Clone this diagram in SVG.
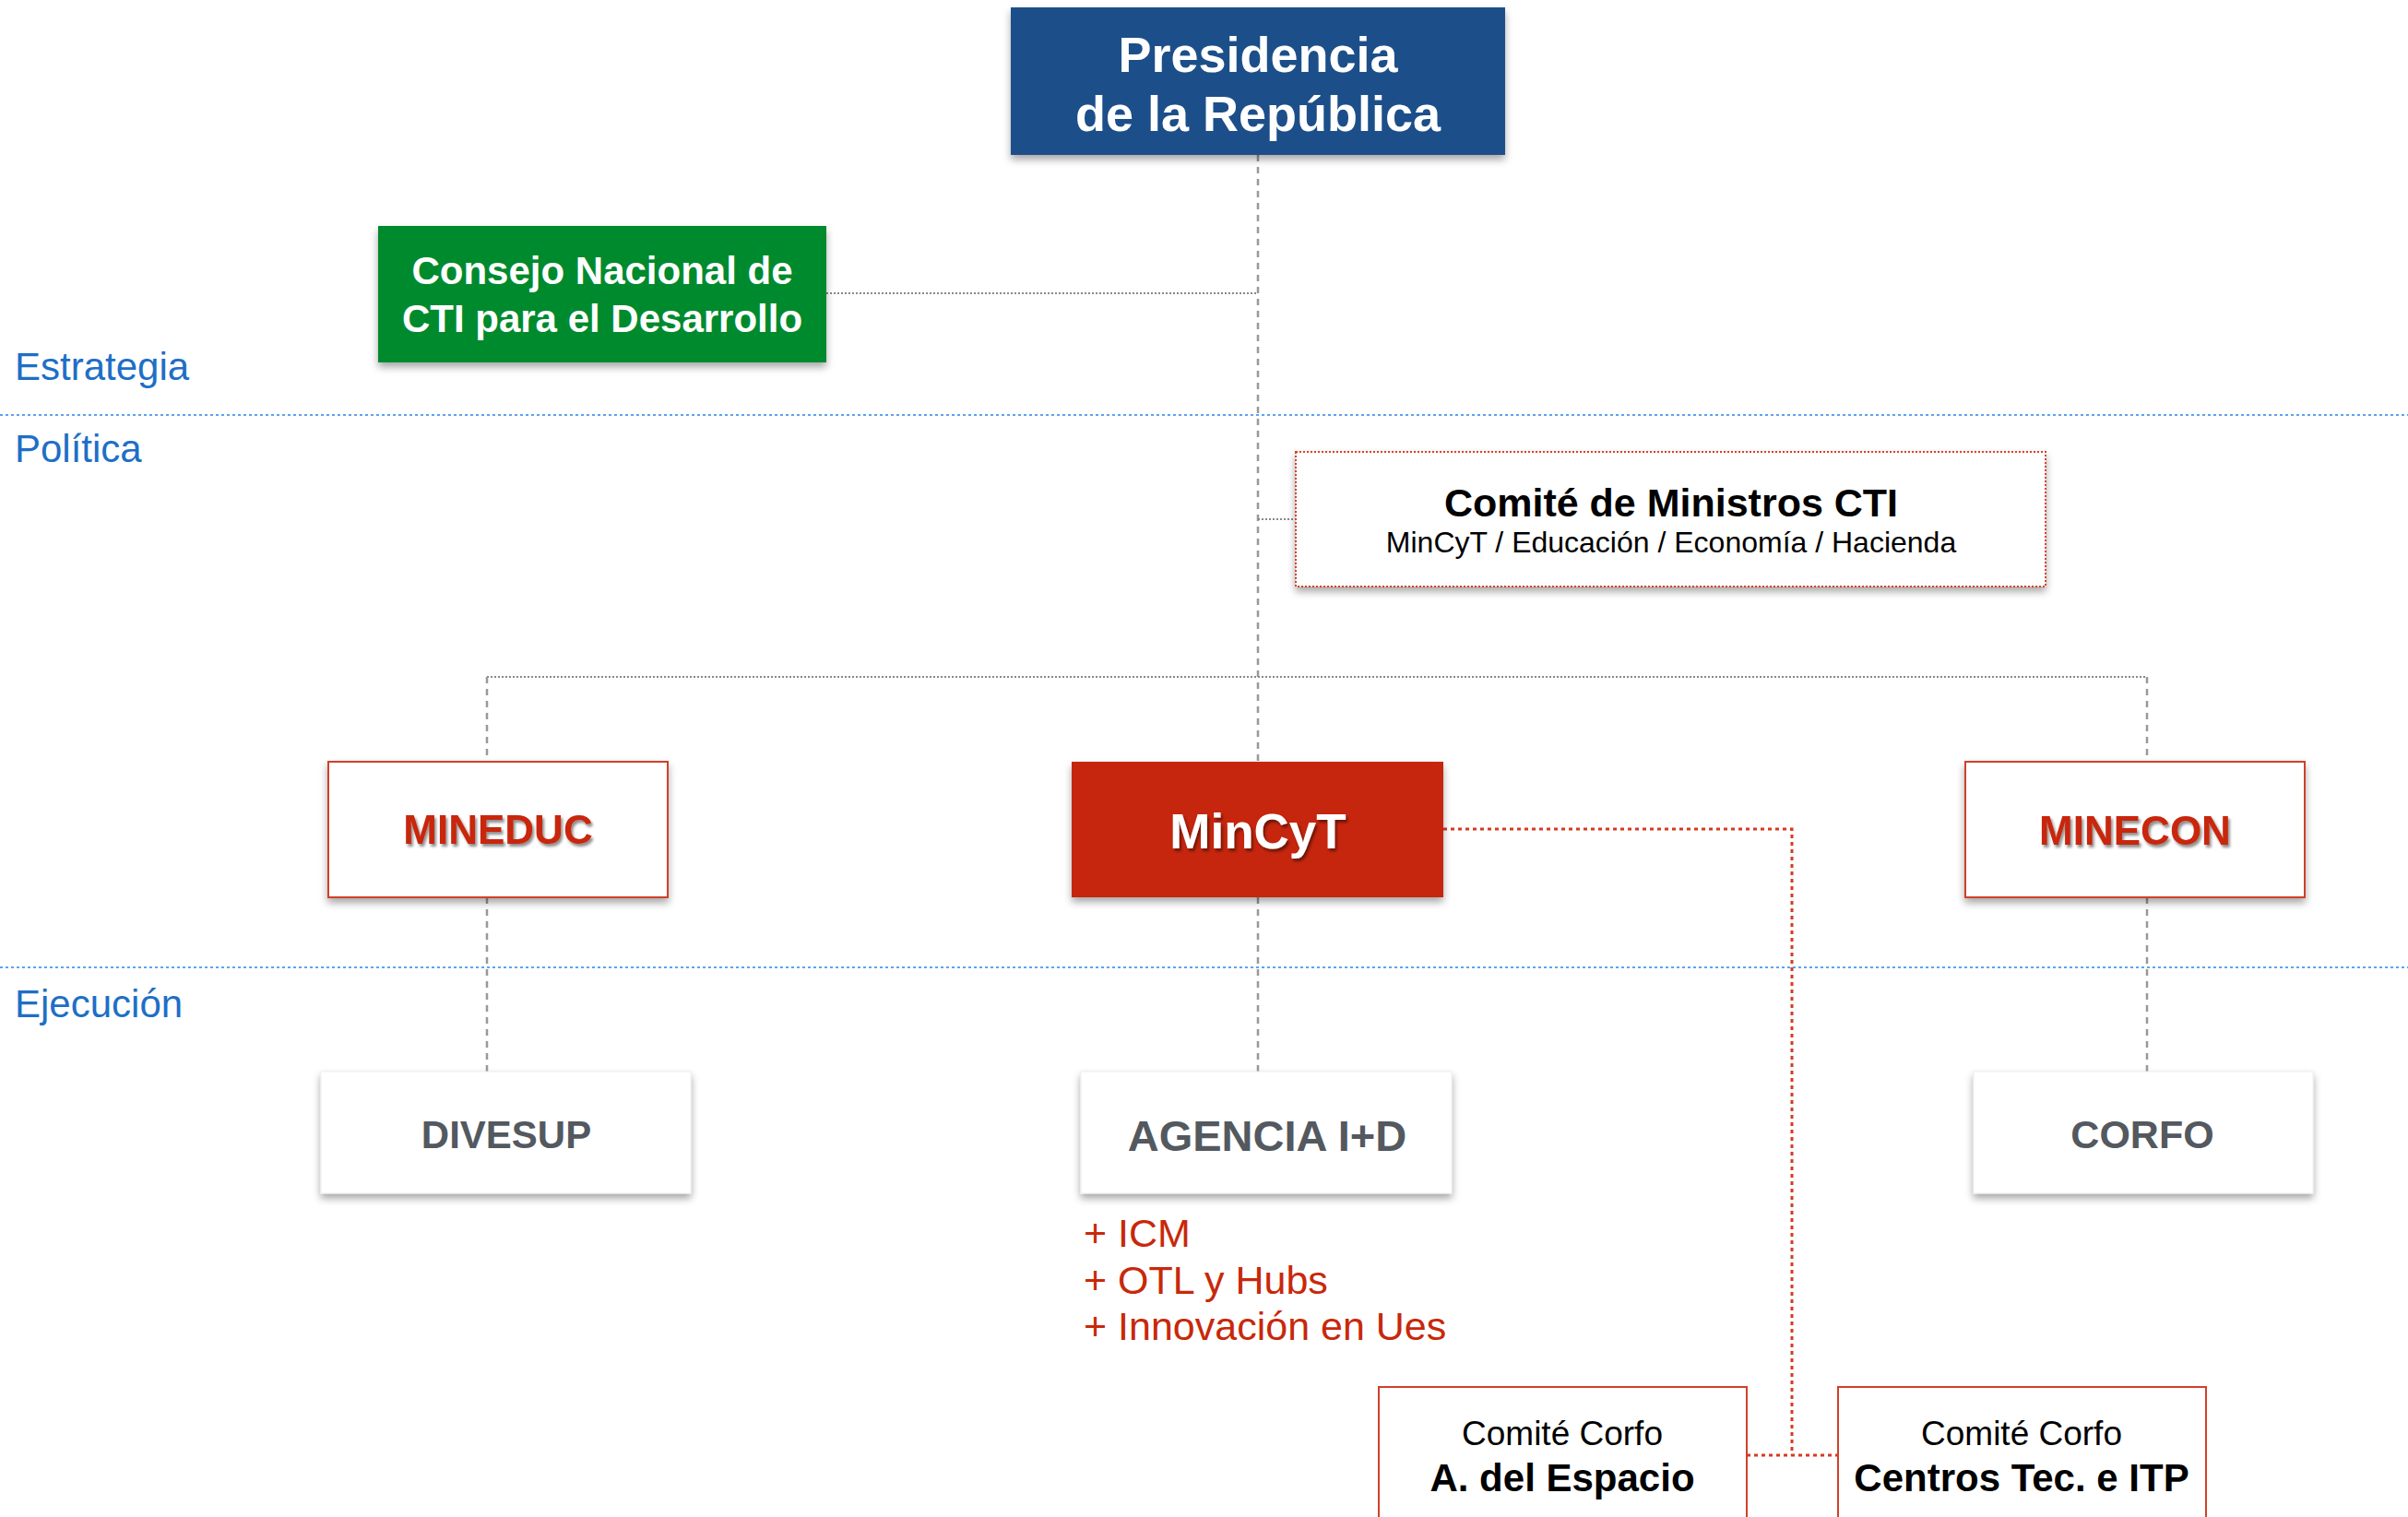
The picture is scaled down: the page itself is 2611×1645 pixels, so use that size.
<svg xmlns="http://www.w3.org/2000/svg" width="2611" height="1645" viewBox="0 0 2611 1645">
<defs>
<filter id="sh" x="-10%" y="-10%" width="120%" height="130%">
<feDropShadow dx="0" dy="5" stdDeviation="4" flood-color="#000" flood-opacity="0.35"/>
</filter>
<filter id="tsh" x="-10%" y="-20%" width="120%" height="150%">
<feDropShadow dx="2" dy="3" stdDeviation="1.5" flood-color="#000" flood-opacity="0.45"/>
</filter>
<style>
text{font-family:"Liberation Sans",Arial,Helvetica,sans-serif}
.band{stroke:#5ea3ec;stroke-width:2;stroke-dasharray:3 3;fill:none}
.lbl{fill:#1e6fc6;font-size:42px}
.gv{stroke:#999;stroke-width:2.5;stroke-dasharray:7 6;fill:none}
.gh{stroke:#888;stroke-width:2;stroke-dasharray:2 2;fill:none}
.rd{stroke:#d63a22;stroke-width:3;stroke-dasharray:4 4;fill:none}
.wt{fill:#fff;font-weight:bold;text-anchor:middle}
.rt{fill:#c8280a;font-weight:bold;text-anchor:middle;font-size:44px}
.gt{fill:#53595f;font-weight:bold;text-anchor:middle}
.bt{fill:#000;text-anchor:middle}
.plus{fill:#c8280a;font-size:43px}
</style>
</defs>
<rect width="2611" height="1645" fill="#fff"/>

<g id="bands">
<line class="band" x1="0" y1="450" x2="2611" y2="450"/>
<line class="band" x1="0" y1="1049" x2="2611" y2="1049"/>
<text class="lbl" x="16" y="412">Estrategia</text>
<text class="lbl" x="16" y="501">Política</text>
<text class="lbl" x="16" y="1103">Ejecución</text>
</g>

<g id="connectors">
<line class="gv" x1="1364" y1="168" x2="1364" y2="826"/>
<line class="gh" x1="896" y1="318" x2="1364" y2="318"/>
<line class="gh" x1="1364" y1="563" x2="1405" y2="563"/>
<line class="gh" x1="528" y1="734" x2="2328" y2="734"/>
<line class="gv" x1="528" y1="734" x2="528" y2="826"/>
<line class="gv" x1="2328" y1="734" x2="2328" y2="826"/>
<line class="gv" x1="528" y1="973" x2="528" y2="1162"/>
<line class="gv" x1="1364" y1="973" x2="1364" y2="1162"/>
<line class="gv" x1="2328" y1="973" x2="2328" y2="1162"/>
<polyline class="rd" points="1565,899 1943,899 1943,1578"/>
<line class="rd" x1="1894" y1="1578" x2="1993" y2="1578"/>
</g>

<g id="presidencia">
<rect x="1096" y="8" width="536" height="160" fill="#1a5089" filter="url(#sh)"/>
<text class="wt" x="1364" y="78" font-size="54">Presidencia</text>
<text class="wt" x="1364" y="142" font-size="54">de la República</text>
</g>

<g id="consejo">
<rect x="410" y="245" width="486" height="148" fill="#058a2d" filter="url(#sh)"/>
<text class="wt" x="653" y="308" font-size="42">Consejo Nacional de</text>
<text class="wt" x="653" y="360" font-size="42">CTI para el Desarrollo</text>
</g>

<g id="comite-ministros">
<rect x="1405" y="490" width="813" height="146" fill="#fff" stroke="#d9432b" stroke-width="2" stroke-dasharray="2 2" filter="url(#sh)"/>
<text class="bt" x="1812" y="560" font-size="43" font-weight="bold">Comité de Ministros CTI</text>
<text class="bt" x="1812" y="599" font-size="32">MinCyT / Educación / Economía / Hacienda</text>
</g>

<g id="mineduc">
<rect x="356" y="826" width="368" height="147" fill="#fff" stroke="#d0412a" stroke-width="2" filter="url(#sh)"/>
<text class="rt" x="540" y="915" filter="url(#tsh)">MINEDUC</text>
</g>

<g id="mincyt">
<rect x="1162" y="826" width="403" height="147" fill="#c5250a" filter="url(#sh)"/>
<text class="wt" x="1364" y="920" font-size="53" filter="url(#tsh)">MinCyT</text>
</g>

<g id="minecon">
<rect x="2131" y="826" width="368" height="147" fill="#fff" stroke="#d0412a" stroke-width="2" filter="url(#sh)"/>
<text class="rt" x="2315" y="916" filter="url(#tsh)">MINECON</text>
</g>

<g id="divesup">
<rect x="348" y="1162" width="401" height="132" fill="#fff" stroke="#eee" stroke-width="1" filter="url(#sh)"/>
<text class="gt" x="549" y="1245" font-size="42">DIVESUP</text>
</g>

<g id="agencia">
<rect x="1172" y="1162" width="402" height="132" fill="#fff" stroke="#eee" stroke-width="1" filter="url(#sh)"/>
<text class="gt" x="1374" y="1248" font-size="47">AGENCIA I+D</text>
</g>

<g id="corfo">
<rect x="2140" y="1162" width="368" height="132" fill="#fff" stroke="#eee" stroke-width="1" filter="url(#sh)"/>
<text class="gt" x="2323" y="1245" font-size="43">CORFO</text>
</g>

<g id="agencia-items">
<text class="plus" x="1175" y="1352">+ ICM</text>
<text class="plus" x="1175" y="1403">+ OTL y Hubs</text>
<text class="plus" x="1175" y="1453">+ Innovación en Ues</text>
</g>

<g id="comite-espacio">
<rect x="1495" y="1504" width="399" height="160" fill="#fff" stroke="#d0412a" stroke-width="2"/>
<text class="bt" x="1694" y="1567" font-size="37">Comité Corfo</text>
<text class="bt" x="1694" y="1617" font-size="42" font-weight="bold">A. del Espacio</text>
</g>

<g id="comite-centros">
<rect x="1993" y="1504" width="399" height="160" fill="#fff" stroke="#d0412a" stroke-width="2"/>
<text class="bt" x="2192" y="1567" font-size="37">Comité Corfo</text>
<text class="bt" x="2192" y="1617" font-size="42" font-weight="bold">Centros Tec. e ITP</text>
</g>
</svg>
